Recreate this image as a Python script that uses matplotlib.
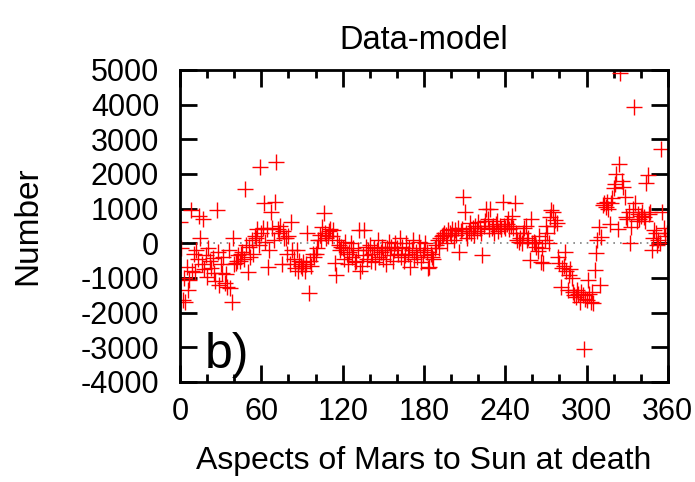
import matplotlib
matplotlib.use('Agg')
import matplotlib.pyplot as plt
import numpy as np
from matplotlib.ticker import MultipleLocator

plt.rcParams['font.family'] = ['Liberation Sans', 'DejaVu Sans']
plt.rcParams['axes.unicode_minus'] = False

# Data minus model, one value per degree of aspect
dev_000_059 = [600, -140, -1650, -1000, -1700, -690, -1350, -1070, 950, -800,
               -300, -830, -200, -450, 800, 140, -600, 700, -750, -350,
               -980, -140, -500, -700, -430, -850, -1100, 950, -260, -1200,
               -600, -870, -400, -1150, -900, -1270, -200, -1300, -1700, 140,
               -600, -580, -500, -350, -500, -300, -250, -450, 1560, -50,
               -830, -100, -400, 100, -300, 200, 150, 400, -50, 2200]
dev_060_119 = [300, 450, 1150, 50, 400, -690, -200, 890, 450, 100,
               1190, 2340, 400, 300, 500, -600, 350, 140, 150, -300,
               200, -600, 610, -200, -450, -700, -200, -800, -500, -650,
               -700, -550, -800, -600, 290, -1440, -500, -650, -300, -400,
               -300, -150, 100, 250, 100, 460, 860, 300, 150, 200,
               350, 400, 200, 375, -580, -920, 100, -50, -200, -100]
dev_120_179 = [-150, -450, 50, -300, -600, -250, 0, -400, -150, -550,
               -500, -200, 375, -800, -650, -350, 375, -100, -450, -200,
               -50, -500, -300, -150, -550, -200, 100, -400, -250, -100,
               -450, -200, -600, -150, 50, -350, -100, -500, -200, 0,
               -150, -300, 150, -400, -100, -500, -350, 0, -300, -150,
               -690, -200, 100, -450, -250, -400, 50, -150, -550, -350]
dev_180_239 = [-200, 0, -250, -720, -690, -300, -400, -460, -150, -50,
               90, -150, 150, 200, 230, 300, 250, 0, 375, 300,
               230, 400, 100, 375, 250, 450, -260, 350, 400, 1330,
               890, 300, 150, 350, 575, 300, 450, 250, 500, 350,
               600, 450, 300, -350, 500, 650, 1000, 700, 400, 1000,
               450, 500, 300, 550, 650, 350, 500, 400, 1180, 500]
dev_240_299 = [450, 550, 700, 400, 500, 800, 450, 1150, 300, 100,
               50, 150, 0, 300, 450, 500, 100, 150, -490, 700,
               0, 50, 0, -100, -230, 210, -550, -130, -560, 100,
               490, 300, 0, 760, 950, 890, 500, 670, 580, -400,
               -580, -1270, -700, -650, -260, -800, -1350, -920, -750, -1000,
               -1400, -1500, -1550, -1350, -1450, -1700, -1400, -1500, -3060, -1600]
dev_300_359 = [-1650, -1070, -1450, -1700, -1400, -1720, -780, -290, 100, 460,
               -1200, 170, 1100, 1150, 1050, 1200, 1000, 570, 1150, 1300,
               1600, 1700, 2000, 400, 2300, 4900, 1800, 1610, 1330, 750,
               700, 900, 0, 460, 1000, 3920, 1150, 650, 850, 700,
               800, 900, 750, 650, 1730, 1960, 850, 900, -200, 160,
               380, 300, -50, 100, 0, 2710, 890, 450, 200, 300]

deviation = (dev_000_059 + dev_060_119 + dev_120_179 +
             dev_180_239 + dev_240_299 + dev_300_359)
degree = np.arange(len(deviation))

fig = plt.figure(figsize=(6.95, 4.82), dpi=100)
ax = fig.add_axes([0.259, 0.2075, 0.702, 0.6475])

ax.axhline(0, color='gray', linestyle=(0, (1, 3)), linewidth=1.2, zorder=1)
ax.plot(degree, deviation, linestyle='none', marker='+', color='red',
        markersize=11, markeredgewidth=1.0, zorder=2)

ax.set_xlim(0, 360)
ax.set_ylim(-4000, 5000)
ax.xaxis.set_major_locator(MultipleLocator(60))
ax.xaxis.set_minor_locator(MultipleLocator(20))
ax.yaxis.set_major_locator(MultipleLocator(1000))
ax.tick_params(which='both', direction='in', top=True, right=True,
               labelsize=22, width=2)
ax.tick_params(axis='y', pad=15)
ax.tick_params(axis='x', pad=11)
ax.tick_params(which='major', length=12)
ax.tick_params(which='minor', length=6)
for s in ax.spines.values():
    s.set_linewidth(2)

ax.set_title('Data-model', fontsize=23.5, pad=15)
ax.set_xlabel('Aspects of Mars to Sun at death', fontsize=23)
ax.set_ylabel('Number', fontsize=24)
ax.xaxis.set_label_coords(0.5, -0.205)
ax.yaxis.set_label_coords(-0.281, 0.5)
ax.text(18, -3600, 'b)', fontsize=36)

fig.savefig('out.png', dpi=100)
